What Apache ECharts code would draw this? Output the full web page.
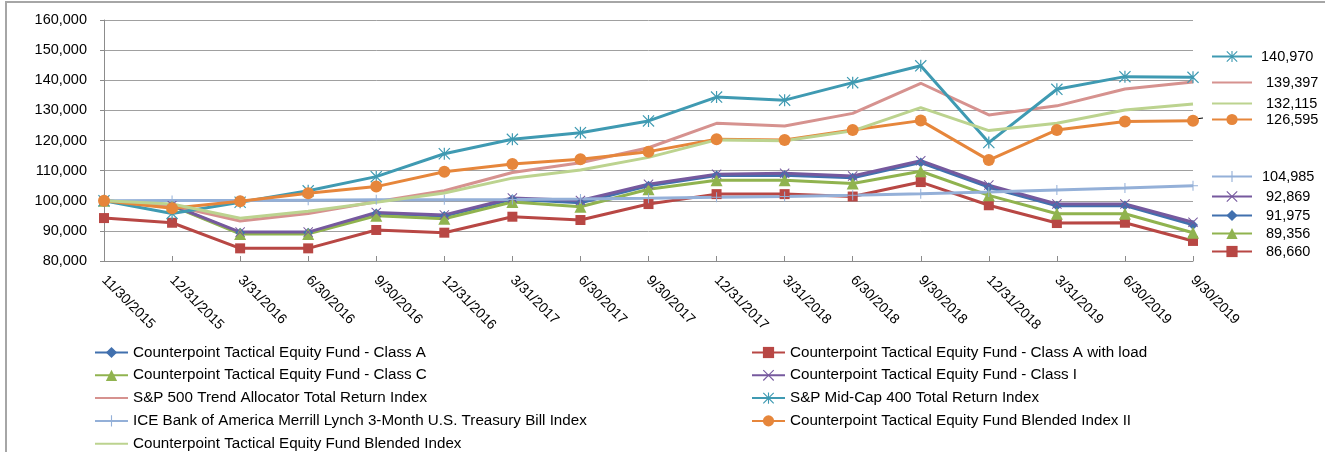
<!DOCTYPE html>
<html>
<head>
<meta charset="utf-8">
<script src="https://cdn.jsdelivr.net/npm/echarts@6/dist/echarts.min.js"></script>
<style>
html,body{margin:0;padding:0;background:#fff;}
#chart{width:1325px;height:452px;}
</style>
</head>
<body>
<div id="chart"></div>
<script>
const dates = ['11/30/2015','12/31/2015','3/31/2016','6/30/2016','9/30/2016','12/31/2016','3/31/2017','6/30/2017','9/30/2017','12/31/2017','3/31/2018','6/30/2018','9/30/2018','12/31/2018','3/31/2019','6/30/2019','9/30/2019'];

const classA    = [100000, 98400, 89350, 89350, 95800, 94900, 100500, 99300, 105000, 108400, 108500, 107600, 112700, 104500, 98300, 98400, 91975];
const classALoad= [94250, 92700, 84200, 84200, 90300, 89400, 94700, 93600, 98900, 102200, 102200, 101400, 106200, 98500, 92600, 92700, 86660];
const classC    = [100000, 98300, 89000, 89000, 95000, 94000, 99600, 98000, 103800, 106800, 106800, 105700, 109800, 101800, 95700, 95700, 89356];
const classI    = [100000, 98500, 89600, 89600, 96100, 95300, 100900, 100100, 105500, 108800, 109100, 108200, 113300, 105200, 98900, 98900, 92869];
const sp500Trend= [100000, 98400, 93300, 95800, 99700, 103300, 109400, 112600, 117600, 125700, 124800, 129000, 139000, 128500, 131500, 137100, 139397];
const spMidCap  = [100000, 95800, 99500, 103300, 108000, 115600, 120400, 122600, 126500, 134400, 133400, 139200, 144800, 119300, 137000, 141200, 140970];
const iceTBill  = [100000, 100050, 100100, 100200, 100300, 100350, 100450, 100600, 100850, 101150, 101450, 101850, 102350, 102900, 103550, 104200, 104985];
const blendedII = [100000, 97500, 99800, 102500, 104700, 109600, 112200, 113800, 116300, 120400, 120200, 123500, 126600, 113500, 123500, 126300, 126595];
const blended   = [100000, 98900, 94200, 96500, 99500, 102600, 107500, 110200, 114400, 120200, 119900, 123200, 130900, 123300, 125700, 130100, 132115];

const yTicks = [80000, 90000, 100000, 110000, 120000, 130000, 140000, 150000, 160000];

const names = {
  A: 'Counterpoint Tactical Equity Fund - Class A',
  L: 'Counterpoint Tactical Equity Fund - Class A with load',
  C: 'Counterpoint Tactical Equity Fund - Class C',
  I: 'Counterpoint Tactical Equity Fund - Class I',
  S: 'S&P 500 Trend Allocator Total Return Index',
  M: 'S&P Mid-Cap 400 Total Return Index',
  T: 'ICE Bank of America Merrill Lynch 3-Month U.S. Treasury Bill Index',
  B2: 'Counterpoint Tactical Equity Fund Blended Index II',
  B: 'Counterpoint Tactical Equity Fund Blended Index'
};
const noMarker = [names.S, names.B];

const FONT = '"Liberation Sans", Arial, sans-serif';
const fmt = v => v.toLocaleString('en-US');

const X_PATH = 'path://M-10,-8.6 L-8.6,-10 L0,-1.4 L8.6,-10 L10,-8.6 L1.4,0 L10,8.6 L8.6,10 L0,1.4 L-8.6,10 L-10,8.6 L-1.4,0 Z';
const PLUS_PATH = 'path://M-1,-10 L1,-10 L1,-1 L10,-1 L10,1 L1,1 L1,10 L-1,10 L-1,1 L-10,1 L-10,-1 L-1,-1 Z';
const STAR_PATH = 'path://M-10,-8.6 L-8.6,-10 L0,-1.4 L8.6,-10 L10,-8.6 L1.4,0 L10,8.6 L8.6,10 L0,1.4 L-8.6,10 L-10,8.6 L-1.4,0 Z M-1,-10 L1,-10 L1,10 L-1,10 Z';

function line(name, data, color, symbol, size) {
  return {
    name, type: 'line', data,
    symbol: symbol || 'none', symbolSize: size || 0,
    showSymbol: !!symbol,
    lineStyle: { color, width: 3 },
    itemStyle: { color, borderWidth: 0 },
    emphasis: { disabled: true },
    animation: false
  };
}

const series = [
  line(names.A, classA, '#4170AE', 'diamond', 10),
  line(names.L, classALoad, '#B84744', 'rect', 10),
  line(names.C, classC, '#90B34F', 'triangle', 12),
  line(names.I, classI, '#76599E', X_PATH, 10),
  line(names.S, sp500Trend, '#D6928F', null, 0),
  line(names.M, spMidCap, '#3F9AB2', STAR_PATH, 12),
  line(names.T, iceTBill, '#94B0D8', PLUS_PATH, 10),
  line(names.B2, blendedII, '#E6863B', 'circle', 12),
  line(names.B, blended, '#BCD38F', null, 0)
];

const lastVal = {};
[[names.A, classA],[names.L, classALoad],[names.C, classC],[names.I, classI],[names.S, sp500Trend],[names.M, spMidCap],[names.T, iceTBill],[names.B2, blendedII],[names.B, blended]]
  .forEach(([n, arr]) => { lastVal[n] = arr[arr.length - 1]; });

const legendItem = n => noMarker.includes(n) ? { name: n, itemStyle: { opacity: 0 } } : { name: n };

// end-value labels (layout positions only)
const endLabels = [
  [names.M, 56, 4],
  [names.S, 82, 9],
  [names.B, 103, 9],
  [names.B2, 119, 9],
  [names.T, 176, 5],
  [names.I, 196, 9],
  [names.A, 215, 9],
  [names.C, 233, 9],
  [names.L, 251, 9]
];

const legendBase = {
  orient: 'vertical', top: 345, height: 130, padding: 0, itemWidth: 33, itemHeight: 14, itemGap: 7.8,
  selectedMode: false,
  textStyle: { fontFamily: FONT, fontSize: 15.2, color: '#000' }
};
const legends = [
  Object.assign({}, legendBase, { left: 94, data: [names.A, names.C, names.S, names.T, names.B].map(legendItem) }),
  Object.assign({}, legendBase, { left: 751, data: [names.L, names.I, names.M, names.B2].map(legendItem) })
];
endLabels.forEach(([n, y, pad]) => {
  legends.push({
    orient: 'vertical', left: 1211, top: y - 7, itemWidth: 40, itemHeight: 14,
    selectedMode: false,
    padding: 0,
    formatter: name => fmt(lastVal[name]),
    textStyle: { fontFamily: FONT, fontSize: 14.5, color: '#000', padding: [0, 0, 0, pad] },
    data: [legendItem(n)]
  });
});

const chart = echarts.init(document.getElementById('chart'), null, { renderer: 'canvas' });
chart.setOption({
  animation: false,
  backgroundColor: '#fff',
  grid: { left: 104, right: 132, top: 20, bottom: 191 },
  legend: legends,
  xAxis: {
    type: 'category', data: dates, boundaryGap: false,
    axisLine: { lineStyle: { color: '#8c8c8c', width: 1 } },
    axisTick: { inside: true, length: 5, lineStyle: { color: '#8c8c8c' } },
    axisLabel: { rotate: -45, margin: 17, fontFamily: FONT, fontSize: 14, color: '#000', interval: 0 },
    splitLine: { show: false }
  },
  yAxis: {
    type: 'value', min: yTicks[0], max: yTicks[yTicks.length - 1], interval: 10000,
    axisLine: { show: true, lineStyle: { color: '#8c8c8c', width: 1 } },
    axisTick: { show: true, length: 4, lineStyle: { color: '#8c8c8c' } },
    axisLabel: { margin: 17, fontFamily: FONT, fontSize: 14.5, color: '#000', formatter: v => fmt(v) },
    splitLine: { lineStyle: { color: '#a0a0a0', width: 1 } }
  },
  graphic: [
    { type: 'rect', shape: { x: 6, y: 2, width: 1340, height: 470 }, style: { fill: 'none', stroke: '#a6a6a6', lineWidth: 2 }, silent: true, z: -10 },
    { type: 'line', shape: { x1: 1195, y1: 119, x2: 1203, y2: 118 }, style: { stroke: '#000', lineWidth: 1 }, silent: true }
  ],
  series
});
</script>
</body>
</html>
